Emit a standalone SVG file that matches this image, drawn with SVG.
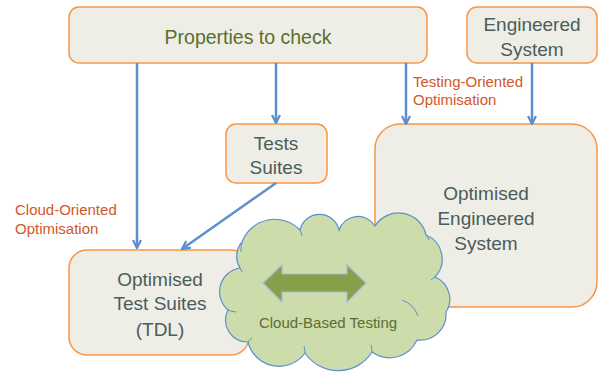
<svg xmlns="http://www.w3.org/2000/svg" width="600" height="374" viewBox="0 0 600 374">
<defs>
<style>
.box{fill:#efeee6;stroke:#f79646;stroke-width:1.5}
.t{font-family:"Liberation Sans",Arial,sans-serif;font-size:19px;fill:#4a5c5c;text-anchor:middle}
.lbl{font-family:"Liberation Sans",Arial,sans-serif;font-size:15px;fill:#d0582a}
.conn{stroke:#5b8fcf;stroke-width:2.5;fill:none}
.cloud{fill:#cddcab;stroke:#5b8fcf;stroke-width:1.2}
</style>
<marker id="ah" viewBox="0 0 10 10" refX="9" refY="5" markerWidth="10" markerHeight="10" markerUnits="userSpaceOnUse" orient="auto">
<path d="M1,1 L9,5 L1,9" fill="none" stroke="#5b8fcf" stroke-width="2.2" stroke-linejoin="miter"/>
</marker>
</defs>
<rect width="600" height="374" fill="#ffffff"/>

<g id="properties">
<rect class="box" x="69" y="7" width="358" height="56" rx="10"/>
<text class="t" x="248" y="44" style="font-size:19.5px;fill:#5a6e2e">Properties to check</text>
</g>
<g id="engineered-system">
<rect class="box" x="467" y="7" width="130" height="56" rx="10"/>
<text class="t" x="532" y="31">Engineered</text>
<text class="t" x="532" y="56">System</text>
</g>
<g id="tests-suites">
<rect class="box" x="226" y="124" width="101" height="59" rx="10"/>
<text class="t" x="276" y="150">Tests</text>
<text class="t" x="276" y="174">Suites</text>
</g>
<g id="optimised-test-suites">
<rect class="box" x="69" y="250" width="180" height="105" rx="18"/>
<text class="t" x="160" y="286">Optimised</text>
<text class="t" x="160" y="310">Test Suites</text>
<text class="t" x="160" y="336">(TDL)</text>
</g>
<g id="optimised-engineered-system">
<rect class="box" x="375" y="124" width="222" height="183" rx="25"/>
<text class="t" x="486" y="200">Optimised</text>
<text class="t" x="486" y="225">Engineered</text>
<text class="t" x="486" y="250">System</text>
</g>

<g id="connectors">
<line class="conn" x1="137" y1="63" x2="137" y2="248" marker-end="url(#ah)"/>
<line class="conn" x1="276" y1="63" x2="276" y2="123" marker-end="url(#ah)"/>
<line class="conn" x1="406" y1="63" x2="406" y2="124" marker-end="url(#ah)"/>
<line class="conn" x1="532" y1="63" x2="532" y2="124" marker-end="url(#ah)"/>
<line class="conn" x1="276" y1="183" x2="182" y2="249" marker-end="url(#ah)"/>
<text class="lbl" x="15" y="215">Cloud-Oriented</text>
<text class="lbl" x="15" y="234">Optimisation</text>
<text class="lbl" x="413" y="87">Testing-Oriented</text>
<text class="lbl" x="413" y="105">Optimisation</text>
</g>

<g id="cloud-based-testing">
<path class="cloud" d="M240,268 A22 22 0 0 1 242,242 A35 35 0 0 1 300,230 A20 20 0 0 1 339,230 A20 20 0 0 1 375,226 A28 28 0 0 1 426,235 A26 26 0 0 1 435,277 A24 24 0 0 1 446,312 A26 26 0 0 1 417,340 A30 30 0 0 1 372,352 A40 40 0 0 1 305,353 A32 32 0 0 1 248,342 A22 22 0 0 1 228,310 A24 24 0 0 1 240,268 Z"/>
<path d="M402,300 A26 26 0 0 1 418,316 M242,242 A35 35 0 0 0 241,252 M300,230 A20 20 0 0 1 302,236 M426,235 A26 26 0 0 1 429,240 M435,277 A24 24 0 0 0 431,280 M372,352 A30 30 0 0 0 371,345 M305,353 A40 40 0 0 0 304,346 M248,342 A32 32 0 0 1 252,338 M228,310 A22 22 0 0 0 236,312 M240,268 A24 24 0 0 1 242,272" fill="none" stroke="#5b8fcf" stroke-width="1"/>
<polygon points="263,283 282,265 282,274 347,274 347,265 366,283 347,302 347,292 282,292 282,302" fill="#86a04a" stroke="#a3bcd6" stroke-width="1.2"/>
<text class="t" x="328" y="328" style="font-size:15px;fill:#5a6e2e">Cloud-Based Testing</text>
</g>
</svg>
